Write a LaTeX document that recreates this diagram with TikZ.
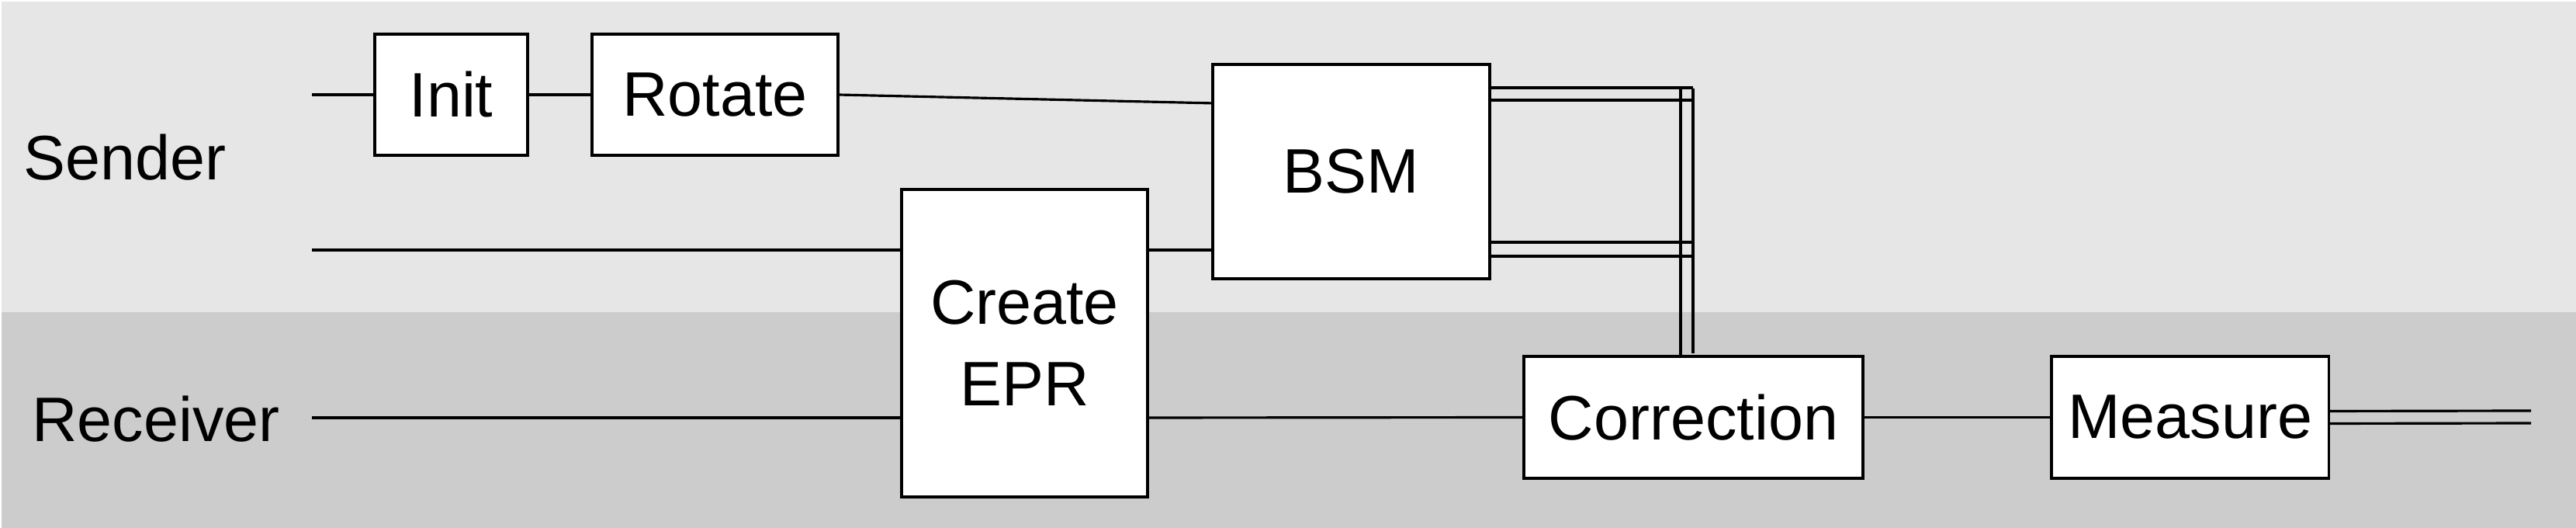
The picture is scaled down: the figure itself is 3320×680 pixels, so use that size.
\documentclass[tikz,border=0pt]{standalone}
\usepackage{fontspec}
\setmainfont{Liberation Sans}
\usetikzlibrary{positioning}
\definecolor{senderbg}{HTML}{E6E6E6}
\definecolor{receiverbg}{HTML}{CCCCCC}

\begin{document}
\begin{tikzpicture}
[x=0.01cm, y=-0.01cm,
    font=\fontsize{23}{30}\selectfont,
    line width=1pt,
    every node/.style={inner sep=0pt, outer sep=0pt, align=center},
    gate/.style={rectangle, draw=black, fill=white, line width=1.1pt},
    wire/.style={draw=black, line width=0.9pt},
    ]

    % bands
    \useasboundingbox (0,0) rectangle (3320,680);
    \fill[senderbg] (2,2) rectangle (3320,402);
    \fill[receiverbg] (2,402) rectangle (3320,680);

    \node (sender) at (161,203) {Sender};
    \node (receiver) at (201,540) {Receiver};

    \node (init) [gate, minimum width=1.97cm, minimum height=1.56cm] at (581.5,122) {Init};
    \node (rotate) [gate, minimum width=3.17cm, minimum height=1.56cm, right=0.83cm of init] {Rotate};
    \node (epr) [gate, minimum width=3.16cm, minimum height=3.96cm] at (1320.5,442) {Create\\EPR};
    \node (bsm) [gate, minimum width=3.57cm, minimum height=2.76cm] at (1741.5,221) {BSM};
    \node (correction) [gate, minimum width=4.37cm, minimum height=1.57cm] at (2182.5,537.5) {Correction};
    \node (measure) [gate, minimum width=3.57cm, minimum height=1.57cm, right=2.43cm of correction] {Measure};

    \coordinate (q1) at (402,122);
    \coordinate (q2) at (402,322);
    \coordinate (q3) at (402,538);
    \coordinate (out) at (3262,537);
    \coordinate (m1) at (2166,114);
    \coordinate (m2) at (2182,114);

    \draw[wire] (q1) -- (init.west);
    \draw[wire] (init.east) -- (rotate.west);
    \draw[wire] (rotate.east) -- ([yshift=0.88cm]bsm.west);
    \draw[wire] (q2) -- (q2 -| epr.west);
    \draw[wire] (q2 -| epr.east) -- (q2 -| bsm.west);
    \draw[wire] (q3) -- (q3 -| epr.west);
    \draw[wire] (q3 -| epr.east) -- (correction.west);
    \draw[wire] (correction.east) -- (measure.west);

    % classical bits
    \foreach \dy in {1.08,0.92,-0.91,-1.09}
        \draw[wire] ([yshift=\dy cm]bsm.east) -- ([yshift=\dy cm]bsm.east -| m2);
    \draw[wire] (m1) -- (m1 |- correction.north);
    \draw[wire] (m2) -- ([yshift=0.04cm]m2 |- correction.north);
    \draw[wire] ([yshift=0.08cm]measure.east) -- ([yshift=0.08cm]out);
    \draw[wire] ([yshift=-0.08cm]measure.east) -- ([yshift=-0.08cm]out);

\end{tikzpicture}
\end{document}
